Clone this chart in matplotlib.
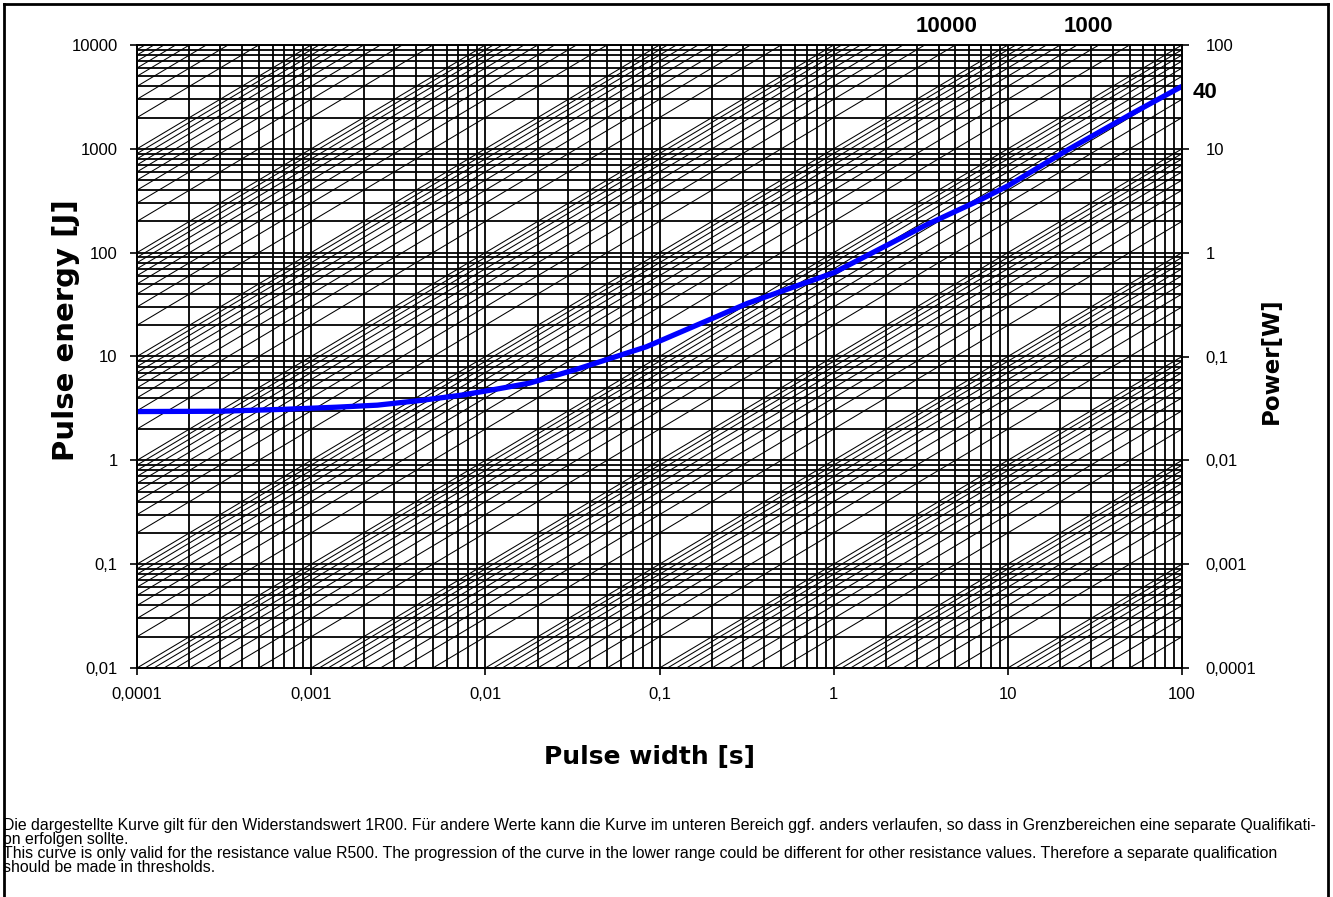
import matplotlib
matplotlib.use("Agg")
import matplotlib.pyplot as plt
from matplotlib.ticker import FixedLocator, FixedFormatter, NullFormatter, LogLocator
from matplotlib.lines import Line2D
import numpy as np

# ---------------- data ----------------
x_ticks = [1e-4, 1e-3, 1e-2, 1e-1, 1, 10, 100]
x_ticklabels = ["0,0001", "0,001", "0,01", "0,1", "1", "10", "100"]
y_ticks = [1e-2, 1e-1, 1, 10, 100, 1000, 10000]
y_ticklabels = ["0,01", "0,1", "1", "10", "100", "1000", "10000"]
p_ticks = [1e-4, 1e-3, 1e-2, 1e-1, 1, 10, 100]
p_ticklabels = ["0,0001", "0,001", "0,01", "0,1", "1", "10", "100"]

# constant-power reference lines (W): multipliers x decades
power_multipliers = [1, 2, 3, 4, 5, 6, 7, 8, 9]
power_decades = [1e-4, 1e-3, 1e-2, 1e-1, 1, 10, 100, 1000, 1e4, 1e5, 1e6, 1e7]

# pulse load curve
curve_t = [1e-4, 3e-4, 7e-4, 1.4e-3, 2.4e-3, 4.4e-3, 7.4e-3, 1.2e-2, 1.8e-2,
           3.4e-2, 8.4e-2, 0.32, 1.0, 3.4, 6.9, 10, 22, 52, 100]
curve_E = [2.95, 2.97, 3.1, 3.25, 3.4, 3.8, 4.26, 4.9, 5.55,
           7.6, 12.4, 32.5, 64, 185, 321, 440, 975, 2200, 4000]

note_lines = [
    "Die dargestellte Kurve gilt für den Widerstandswert 1R00. Für andere Werte kann die Kurve im unteren Bereich ggf. anders verlaufen, so dass in Grenzbereichen eine separate Qualifikati-",
    "on erfolgen sollte.",
    "This curve is only valid for the resistance value R500. The progression of the curve in the lower range could be different for other resistance values. Therefore a separate qualification",
    "should be made in thresholds.",
]

# ---------------- figure ----------------
W, H = 1333, 897
fig = plt.figure(figsize=(W / 100, H / 100), dpi=100)
fig.patch.set_facecolor("white")

def fx(px):
    return px / W

def fy(py):
    return 1 - py / H

ax_l, ax_r, ax_t, ax_b = 137, 1182, 45, 668
ax = fig.add_axes([fx(ax_l), fy(ax_b), fx(ax_r) - fx(ax_l), fy(ax_t) - fy(ax_b)])
ax.set_xscale("log")
ax.set_yscale("log")
xmin, xmax = 1e-4, 100
ymin, ymax = 1e-2, 1e4
ax.set_xlim(xmin, xmax)
ax.set_ylim(ymin, ymax)

# grid (major + minor)
ax.xaxis.set_minor_locator(LogLocator(base=10, subs=np.arange(2, 10), numticks=100))
ax.yaxis.set_minor_locator(LogLocator(base=10, subs=np.arange(2, 10), numticks=100))
ax.xaxis.set_minor_formatter(NullFormatter())
ax.yaxis.set_minor_formatter(NullFormatter())
ax.grid(True, which="both", color="black", linewidth=1.3)
ax.set_axisbelow(True)

# diagonal constant-power lines
tt = np.array([xmin, xmax])
for d in power_decades:
    for m in power_multipliers:
        P = d * m
        ax.plot(tt, P * tt, color="black", linewidth=0.75, zorder=1.5)

# curve
ax.plot(curve_t, curve_E, color="#0000FF", linewidth=3.8, solid_capstyle="butt", zorder=5)

tick_font = dict(family=["Liberation Sans", "DejaVu Sans"], size=12)
ax.xaxis.set_major_locator(FixedLocator(x_ticks))
ax.xaxis.set_major_formatter(FixedFormatter(x_ticklabels))
ax.yaxis.set_major_locator(FixedLocator(y_ticks))
ax.yaxis.set_major_formatter(FixedFormatter(y_ticklabels))
ax.tick_params(which="major", direction="out", length=5, width=1.2, color="black", pad=9)
ax.tick_params(which="minor", length=0)
for lab in ax.get_xticklabels() + ax.get_yticklabels():
    lab.set_fontfamily(tick_font["family"])
    lab.set_fontsize(tick_font["size"])
for s in ax.spines.values():
    s.set_color("black")
    s.set_linewidth(1.3)

ax2 = ax.twinx()
ax2.set_yscale("log")
ax2.set_ylim(p_ticks[0], p_ticks[-1])
ax2.yaxis.set_major_locator(FixedLocator(p_ticks))
ax2.yaxis.set_major_formatter(FixedFormatter(p_ticklabels))
ax2.yaxis.set_minor_locator(FixedLocator([]))
ax2.tick_params(which="major", direction="out", length=5, width=1.2, color="black", pad=12)
for lab in ax2.get_yticklabels():
    lab.set_fontfamily(tick_font["family"])
    lab.set_fontsize(tick_font["size"])
for s in ax2.spines.values():
    s.set_linewidth(1.3)

# axis titles
fig.text(fx(650), fy(757), "Pulse width [s]", ha="center", va="center",
         fontsize=18, fontweight="bold", family="DejaVu Sans")
fig.text(fx(66), fy(330), "Pulse energy [J]", ha="center", va="center", rotation=90,
         fontsize=21, fontweight="bold", family="DejaVu Sans")
fig.text(fx(1271), fy(361), "Power[W]", ha="center", va="center", rotation=90,
         fontsize=16.5, fontweight="bold", family="DejaVu Sans")

# annotations
bold_font = dict(family=["Liberation Sans", "DejaVu Sans"], fontweight="bold", fontsize=16)
fig.text(fx(947), fy(26), "10000", ha="center", va="center", **bold_font)
fig.text(fx(1088), fy(26), "1000", ha="center", va="center", **bold_font)
fig.text(fx(1205), fy(93), "40", ha="center", va="center", **bold_font)

# notes
note_y = [825, 839, 853, 867]
note_texts = []
for yy, line in zip(note_y, note_lines):
    t = fig.text(fx(3), fy(yy), line, ha="left", va="center", fontsize=10,
                 family=["Liberation Sans Narrow", "Liberation Sans", "DejaVu Sans"])
    note_texts.append(t)
fig.canvas.draw()
r = fig.canvas.get_renderer()
w0 = note_texts[0].get_window_extent(r).width
scale = 1318.0 / w0
for t in note_texts:
    t.set_fontsize(10 * scale)

# outer frame
lw = 2.0
fig.add_artist(Line2D([fx(4), fx(4)], [0, fy(4)], color="black", linewidth=lw))
fig.add_artist(Line2D([fx(4), fx(1328)], [fy(4), fy(4)], color="black", linewidth=lw))
fig.add_artist(Line2D([fx(1328), fx(1328)], [0, fy(4)], color="black", linewidth=lw))

fig.savefig("out.png", dpi=100, facecolor="white")
